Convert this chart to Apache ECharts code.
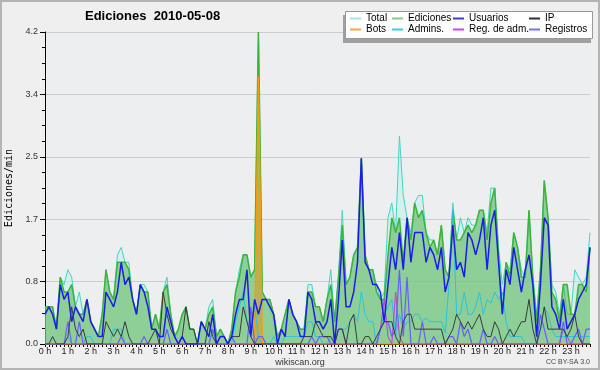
<!DOCTYPE html>
<html>
<head>
<meta charset="utf-8">
<script src="https://cdn.jsdelivr.net/npm/echarts@6/dist/echarts.min.js"></script>
<style>
html,body{margin:0;padding:0;background:#efefef;}
#chart{width:600px;height:370px;}
</style>
</head>
<body>
<div id="chart"></div>
<script>
// Hour tick labels and 10-minute slots
const hourLabels = ['0 h','1 h','2 h','3 h','4 h','5 h','6 h','7 h','8 h','9 h','10 h','11 h',
  '12 h','13 h','14 h','15 h','16 h','17 h','18 h','19 h','20 h','21 h','22 h','23 h'];
const minuteLabels = ['00','10','20','30','40','50'];
const times = [];
hourLabels.forEach(function (h, hi) { minuteLabels.forEach(function (m) { times.push(hi + ':' + m); }); });

// Edits per minute (10-minute buckets)
const total = [
0.5,0.5,0.5,0.2,0.9,0.8,1.0,0.9,0.5,0.7,
0.4,0.6,0.3,0.2,0.1,0.4,1.0,0.7,0.6,1.2,
1.3,1.1,1.1,0.6,0.4,0.8,0.8,0.7,0.2,0.4,
0.2,0.7,0.9,0.4,0.1,0.2,0.4,0.5,0.2,0.2,
0.0,0.3,0.2,0.5,0.6,0.1,0.2,0.1,0.0,0.2,
0.7,1.0,1.2,1.2,0.9,1.0,4.2,0.7,0.6,0.6,
0.4,0.1,0.2,0.4,0.6,0.4,0.3,0.2,0.2,0.8,
0.8,0.5,0.5,0.3,0.6,1.0,0.3,0.9,1.8,0.8,
0.9,1.2,1.3,2.5,1.2,1.0,1.0,0.8,0.6,0.7,
1.7,1.9,1.5,2.8,2.0,1.7,1.5,1.9,2.0,2.0,
1.5,1.4,1.4,1.2,1.6,1.0,0.9,1.9,1.4,1.7,
1.5,1.7,1.6,1.6,1.8,1.8,1.5,2.1,2.1,1.3,
0.8,1.1,1.0,1.5,1.3,1.0,0.9,1.8,0.9,0.4,
1.0,2.2,1.7,0.8,0.7,0.4,0.8,0.4,0.4,1.0,
0.9,0.8,0.9,1.5];
const ediciones = [
0.5,0.5,0.5,0.2,0.9,0.7,0.7,0.8,0.5,0.4,
0.4,0.6,0.3,0.2,0.1,0.4,1.0,0.7,0.6,1.1,
1.1,1.1,1.0,0.6,0.4,0.8,0.7,0.7,0.2,0.4,
0.2,0.7,0.8,0.4,0.1,0.2,0.4,0.5,0.2,0.2,
0.0,0.3,0.2,0.4,0.5,0.1,0.2,0.1,0.0,0.2,
0.7,0.9,1.2,1.2,0.9,1.0,4.2,0.7,0.6,0.6,
0.4,0.1,0.2,0.4,0.6,0.4,0.3,0.2,0.2,0.7,
0.7,0.5,0.5,0.3,0.6,0.8,0.3,0.9,1.6,0.8,
0.9,1.2,1.3,2.5,1.2,1.0,1.0,0.7,0.6,0.6,
1.2,1.7,1.5,1.7,1.1,1.7,1.4,1.9,1.7,1.8,
1.5,1.3,1.4,1.2,1.6,1.0,0.9,1.8,1.4,1.4,
1.5,1.6,1.5,1.6,1.8,1.8,1.4,1.9,2.1,1.2,
0.4,1.1,0.9,1.5,1.3,0.9,0.9,1.8,0.9,0.3,
1.0,2.2,1.7,0.7,0.6,0.3,0.8,0.8,0.4,0.4,
0.8,0.8,0.7,1.3];
const usuarios = [
0.4,0.5,0.4,0.2,0.8,0.6,0.7,0.3,0.5,0.4,
0.3,0.6,0.3,0.2,0.1,0.1,0.7,0.6,0.5,0.7,
1.1,0.8,0.9,0.6,0.4,0.8,0.7,0.5,0.2,0.2,
0.1,0.1,0.5,0.3,0.1,0.0,0.1,0.0,0.0,0.0,
0.0,0.3,0.2,0.1,0.4,0.0,0.1,0.1,0.0,0.1,
0.4,0.6,0.6,1.0,0.1,0.6,0.4,0.6,0.6,0.5,
0.4,0.0,0.2,0.1,0.6,0.4,0.3,0.1,0.1,0.7,
0.6,0.3,0.3,0.2,0.3,0.6,0.0,0.6,1.4,0.5,
0.5,0.7,1.1,2.5,1.1,1.0,0.8,0.8,0.7,0.3,
0.8,1.3,1.0,1.5,1.0,1.7,1.1,1.5,1.5,1.5,
1.1,1.3,1.2,1.0,1.3,0.7,0.9,1.6,1.0,1.1,
0.9,1.5,1.4,1.2,1.4,1.7,1.0,1.6,1.8,1.1,
0.4,1.0,0.8,1.3,1.0,0.7,1.0,1.2,0.8,0.1,
0.8,1.7,1.6,0.5,0.4,0.2,0.6,0.2,0.3,0.4,
0.6,0.7,0.8,1.3];
const ip = [
0,0,0.1,0,0,0,0.1,0.5,0.2,0.1,
0.2,0,0,0,0,0,0.3,0.2,0.1,0.2,
0.1,0.3,0.1,0,0,0,0,0,0.1,0.2,
0,0.7,0.4,0.2,0.1,0,0.1,0.5,0.2,0.2,
0,0,0,0.3,0.1,0,0.1,0.1,0,0.1,
0.1,0.1,0.5,0.3,0.1,0,0,0,0,0,
0,0,0,0,0,0,0,0,0.1,0.1,
0.1,0.3,0.2,0.1,0.1,0.1,0,0.2,0.2,0,
0.3,0.4,0,0,0.1,0.1,0,0.1,0.2,0.3,
0.3,0.3,0.1,0,0.3,0.4,0.4,0.2,0.2,0.2,
0.2,0.2,0.2,0.2,0.2,0,0.1,0.2,0.4,0.3,
0.2,0.3,0.2,0.3,0.4,0.2,0.1,0.1,0.3,0.2,
0,0.1,0.2,0.1,0.2,0.3,0.3,0.6,0.2,0,
0.2,0.5,0.2,0.2,0.2,0.2,0.2,0.1,0.2,0.4,
0.1,0,0,0];
const bots = [
0,0,0,0,0,0,0,0,0,0, 0,0,0,0,0,0,0,0,0,0, 0,0,0,0,0,0,0,0,0,0,
0,0,0,0,0,0,0,0,0,0, 0,0,0,0,0,0,0,0,0,0, 0,0,0,0,0,0,3.6,0,0,0,
0,0,0,0,0,0,0,0,0,0, 0,0,0,0,0,0,0,0,0,0, 0,0,0,0,0,0,0,0,0,0,
0,0,0,0,0,0,0,0,0,0, 0,0,0,0,0,0,0,0,0,0, 0,0,0,0,0,0,0,0,0,0,
0,0,0,0,0,0,0,0,0,0, 0,0,0,0,0,0,0,0,0,0, 0,0,0,0];
const admins = [
0,0,0,0,0,0,0.1,0,0,0,
0,0.1,0.1,0,0,0,0,0,0.2,0.2,
0.2,0,0,0,0,0,0,0,0,0,
0,0,0,0,0,0,0,0,0,0,
0,0,0,0,0,0,0,0,0,0,
0.3,0.5,0.7,0.3,0.2,0.5,0.1,0,0,0,
0.1,0,0,0.1,0.1,0.1,0.1,0.1,0.1,0.3,
0.3,0.1,0.1,0,0,0.1,0,0.2,0.2,0.2,
0.3,0.4,0.3,0.7,0.4,0.3,0.3,0,0.2,0.4,
0.5,0.6,0.1,0.4,0.2,0.3,0.3,0.4,0.4,0.3,
0.35,0.3,0.3,0.3,0.3,0.15,0.8,1.8,0.4,0.4,
0.7,0.4,0.4,0.5,0.7,0.4,0.6,0.55,0.7,0.6,
0.7,0.3,0.1,0.1,0.1,0.1,0,0,0,0,
0.2,0.5,0.4,0.2,0.1,0.1,0.1,0.1,0.1,0.1,
0.1,0.1,0.1,0.1];
const regAdm = [
0,0,0,0,0,0,0,0,0,0, 0,0,0,0,0,0,0,0,0,0, 0,0,0,0,0,0,0,0,0,0,
0,0,0,0,0,0,0,0,0,0, 0,0,0,0,0,0,0,0,0,0, 0,0,0,0,0,0,0,0,0,0,
0,0,0,0,0,0,0,0,0,0, 0,0,0,0,0,0,0,0,0,0, 0,0,0,0,0,0,0,0,0.2,0.6,
0.1,0,0.7,0.1,0,0,0,0,0,0, 0,0,0,0,0,0,0,0,0,0, 0,0,0,0,0,0,0,0,0,0,
0,0,0,0,0,0,0,0,0,0, 0,0,0,0,0,0,0.2,0.1,0,0, 0,0,0,0];
const registros = [
0,0,0,0,0,0,0.3,0,0,0.3,
0,0,0,0,0,0,0,0,0,0,
0.1,0,0,0,0,0,0.1,0,0,0,
0,0,0.2,0,0,0,0.1,0,0,0,
0,0,0,0,0.2,0,0,0,0,0.1,
0,0,0,0,0.5,0,0.1,0.1,0,0,
0,0,0,0,0,0,0,0,0,0,
0.1,0,0.1,0.1,0.1,0,0,0.2,0.2,0,
0,0,0,0,0,0,0,0,0.2,0.3,
0.3,0.1,0.2,1.0,0.1,0.9,0,0,0,0.3,
0,0,0.1,0,0,0,0.1,0.1,0,0.3,
0.1,0.2,0,0,0,0.2,0,0,0.1,0,
0,0,0,0,0,0,0,0,0,0,
0.4,0.2,0,0,0,0,0.3,0,0,0.1,
0.2,0,0.2,0.2];

const FONT = 'Liberation Sans';
const chart = echarts.init(document.getElementById('chart'), null, {renderer: 'canvas'});

function lineSeries(name, data, color, width, area, z) {
  const s = {
    name: name, type: 'line', data: data, showSymbol: false, symbol: 'none',
    lineStyle: {color: color, width: width}, itemStyle: {color: color},
    z: z, animation: false, silent: true
  };
  if (area) s.areaStyle = {color: area, opacity: 1};
  return s;
}

function legendCol(left, items) {
  return {
    left: left, top: 13, orient: 'vertical', padding: 0, itemGap: 0,
    itemWidth: 11, itemHeight: 2, icon: 'rect', z: 20,
    textStyle: {fontFamily: FONT, fontSize: 10, color: '#000', lineHeight: 11, padding: [0, 0, 0, 0]},
    selectedMode: false,
    data: items
  };
}

chart.setOption({
  backgroundColor: '#efefef',
  animation: false,
  title: {
    text: 'Ediciones  2010-05-08', left: 85, top: 10, padding: 0,
    textStyle: {fontFamily: FONT, fontSize: 13, fontWeight: 'bold', color: '#000'}
  },
  legend: [
    legendCol(350, [{name: 'Total', itemStyle: {color: '#a6e6dc'}}, {name: 'Bots', itemStyle: {color: '#ffa040'}}]),
    legendCol(392, [{name: 'Ediciones', itemStyle: {color: '#88cc88'}}, {name: 'Admins.', itemStyle: {color: '#44c8d8'}}]),
    legendCol(453, [{name: 'Usuarios', itemStyle: {color: '#3c3cd0'}}, {name: 'Reg. de adm.', itemStyle: {color: '#cc44dd'}}]),
    legendCol(529, [{name: 'IP', itemStyle: {color: '#333333'}}, {name: 'Registros', itemStyle: {color: '#7474ee'}}])
  ],
  grid: {left: 45, right: 10, top: 32, bottom: 26, show: true, backgroundColor: '#edeef0',
    borderWidth: 0, containLabel: false, outerBoundsMode: 'none'},
  xAxis: {
    type: 'category', data: times, boundaryGap: false,
    axisLine: {lineStyle: {color: '#000', width: 1}},
    axisTick: {show: true, interval: 0, length: 3, lineStyle: {color: '#000'}},
    axisLabel: {
      interval: 5, margin: 3, fontFamily: FONT, fontSize: 9, color: '#222',
      formatter: function (v, i) { return hourLabels[Math.floor(i / 6)]; }
    },
    splitLine: {show: false}
  },
  yAxis: {
    type: 'value', min: 0, max: 4.2, interval: 0.84,
    name: 'Ediciones/min', nameLocation: 'middle', nameGap: 30, nameRotate: 90,
    nameTextStyle: {fontFamily: 'DejaVu Sans Mono', fontSize: 10, color: '#000'},
    axisLine: {show: true, lineStyle: {color: '#000', width: 1}},
    axisTick: {show: true, length: 5, lineStyle: {color: '#000'}},
    minorTick: {show: true, splitNumber: 4, length: 3, lineStyle: {color: '#000'}},
    axisLabel: {margin: 7, fontFamily: FONT, fontSize: 9, color: '#333',
      formatter: function (v) { return v.toFixed(1); }},
    splitLine: {show: true, lineStyle: {color: '#cccccc', width: 1}}
  },
  series: [
    lineSeries('Total', total, '#3fd6c6', 1, 'rgba(195,240,232,0.55)', 2),
    lineSeries('Ediciones', ediciones, '#3cb43c', 1.5, 'rgba(70,175,70,0.5)', 3),
    lineSeries('Bots', bots, '#ff9900', 1.5, 'rgba(225,140,20,0.45)', 4),
    lineSeries('Admins.', admins, '#2ac4dc', 1, null, 5),
    lineSeries('Reg. de adm.', regAdm, '#c03ce0', 1, null, 6),
    lineSeries('Registros', registros, '#6a5cff', 1.2, null, 7),
    lineSeries('IP', ip, '#3a3a3a', 1, null, 8),
    lineSeries('Usuarios', usuarios, '#1c1ce8', 1.5, null, 9)
  ],
  graphic: [
    {type: 'rect', z: 1, silent: true, shape: {x: 1, y: 1, width: 598, height: 368},
      style: {fill: null, stroke: '#b4b4b4', lineWidth: 2}},
    {type: 'rect', z: 15, silent: true, shape: {x: 343, y: 15, width: 248, height: 28},
      style: {fill: '#a0a0a0'}},
    {type: 'rect', z: 16, silent: true, shape: {x: 345.5, y: 11.5, width: 247, height: 27},
      style: {fill: '#ffffff', stroke: '#999999', lineWidth: 1}},
    {type: 'text', z: 16, silent: true, left: 'center', top: 358,
      style: {text: 'wikiscan.org', font: '9px "Liberation Sans"', fill: '#333'}},
    {type: 'text', z: 16, silent: true, right: 10, top: 359,
      style: {text: 'CC BY-SA 3.0', font: '7px "Liberation Sans"', fill: '#444'}}
  ]
});
</script>
</body>
</html>
